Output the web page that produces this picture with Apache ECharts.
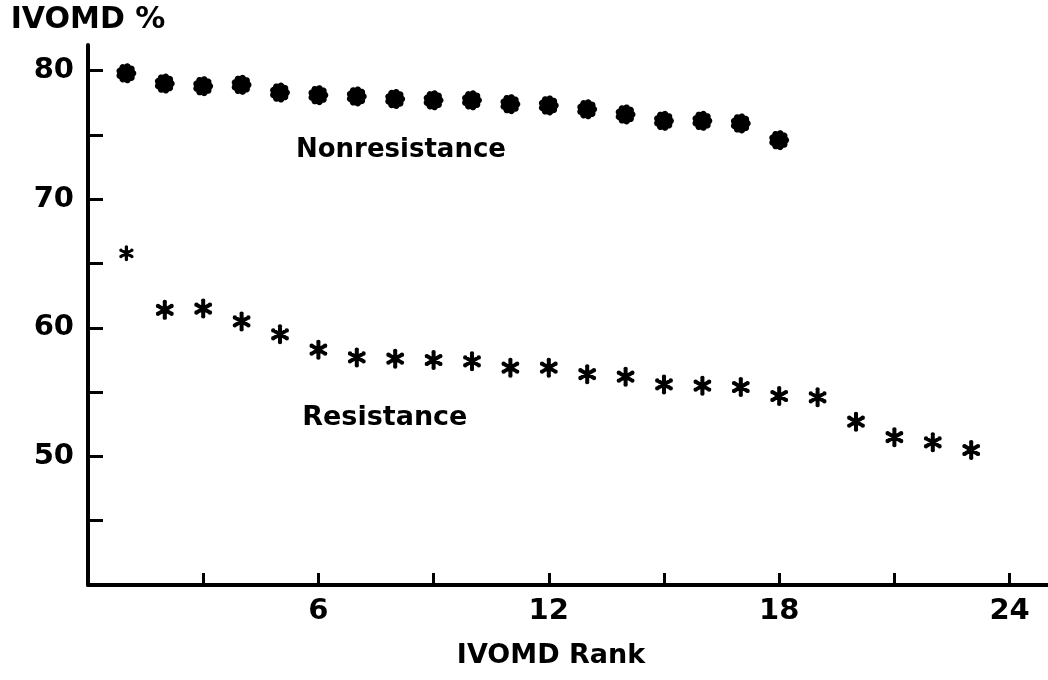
<!DOCTYPE html>
<html>
<head>
<meta charset="utf-8">
<title>IVOMD by rank</title>
<script src="https://cdn.jsdelivr.net/npm/echarts@6/dist/echarts.min.js"></script>
<style>
  html, body { margin: 0; padding: 0; background: #fff; }
  #chart { width: 1048px; height: 680px; }
</style>
</head>
<body>
<div id="chart"></div>
<script>
// IVOMD (%) of clones ordered by rank, for the two groups
const nonresistanceRanks = [1, 2, 3, 4, 5, 6, 7, 8, 9, 10, 11, 12, 13, 14, 15, 16, 17, 18];
const nonresistanceValues = [79.8, 79.0, 78.8, 78.9, 78.3, 78.1, 78.0, 77.8, 77.7, 77.7, 77.4, 77.3, 77.0, 76.6, 76.1, 76.1, 75.9, 74.6];

const resistanceRanks = [1, 2, 3, 4, 5, 6, 7, 8, 9, 10, 11, 12, 13, 14, 15, 16, 17, 18, 19, 20, 21, 22, 23];
const resistanceValues = [65.8, 61.4, 61.5, 60.5, 59.5, 58.3, 57.7, 57.6, 57.5, 57.4, 56.9, 56.9, 56.4, 56.2, 55.6, 55.5, 55.4, 54.7, 54.6, 52.7, 51.5, 51.1, 50.5];

const xTickValues = [3, 6, 9, 12, 15, 18, 21, 24];
const xLabelValues = [6, 12, 18, 24];
const yTickValues = [45, 50, 55, 60, 65, 70, 75, 80];
const yLabelValues = [50, 60, 70, 80];

const FONT = '"DejaVu Sans", "Liberation Sans", sans-serif';

// circle sub-path, drawn clockwise so overlapping pieces merge
function circlePath(cx, cy, r) {
  return 'M' + (cx - r) + ' ' + cy +
    'A' + r + ' ' + r + ' 0 1 1 ' + (cx + r) + ' ' + cy +
    'A' + r + ' ' + r + ' 0 1 1 ' + (cx - r) + ' ' + cy + 'Z';
}

// solid round marker with a shallow scalloped rim, as one closed outline
function flowerSymbol() {
  const n = 180, lobes = 9;
  const pts = [];
  for (let i = 0; i < n; i++) {
    const t = (i / n) * Math.PI * 2;
    const r = 44 + 6 * Math.abs(Math.cos(lobes * t / 2));
    pts.push((50 + r * Math.cos(t)).toFixed(2) + ' ' + (50 + r * Math.sin(t)).toFixed(2));
  }
  return 'path://M' + pts.join('L') + 'Z';
}

// six-armed asterisk marker with rounded arm tips
function asteriskSymbol() {
  const L = 39, h = 10, tip = 11;
  let d = '';
  [90, 30, 150].forEach(function (deg) {
    const t = deg * Math.PI / 180;
    const ux = Math.cos(t), uy = Math.sin(t);
    const nx = -uy, ny = ux;
    const pts = [
      [50 + L * ux - h * nx, 50 + L * uy - h * ny],
      [50 + L * ux + h * nx, 50 + L * uy + h * ny],
      [50 - L * ux + h * nx, 50 - L * uy + h * ny],
      [50 - L * ux - h * nx, 50 - L * uy - h * ny]
    ];
    d += 'M' + pts.map(function (p) { return p[0].toFixed(2) + ' ' + p[1].toFixed(2); }).join('L') + 'Z';
    d += circlePath(50 + L * ux, 50 + L * uy, tip);
    d += circlePath(50 - L * ux, 50 - L * uy, tip);
  });
  return 'path://' + d;
}

function pairs(xs, ys) {
  return xs.map(function (x, i) { return [x, ys[i]]; });
}

const chart = echarts.init(document.getElementById('chart'), null, { renderer: 'canvas' });

const textBase = { color: '#000', fontFamily: FONT, fontWeight: 'bold' };

chart.setOption({
  backgroundColor: '#fff',
  animation: false,
  grid: { left: 88, right: 0, top: 45, bottom: 95, containLabel: false, outerBoundsMode: 'none' },
  xAxis: {
    type: 'value',
    min: 0,
    max: 25,
    name: 'IVOMD Rank',
    nameLocation: 'middle',
    nameGap: 57,
    nameTextStyle: Object.assign({ fontSize: 27, padding: [0, 34, 0, 0] }, textBase),
    axisLine: { show: true, onZero: false, lineStyle: { color: '#000', width: 4, cap: 'round' } },
    axisTick: { show: true, inside: true, length: 12, customValues: xTickValues, lineStyle: { color: '#000', width: 3 } },
    axisLabel: Object.assign({ fontSize: 29, margin: 12, customValues: xLabelValues }, textBase),
    splitLine: { show: false }
  },
  yAxis: {
    type: 'value',
    min: 40,
    max: 82,
    name: 'IVOMD %',
    nameLocation: 'end',
    nameGap: 10,
    nameTextStyle: Object.assign({ fontSize: 30 }, textBase),
    axisLine: { show: true, onZero: false, lineStyle: { color: '#000', width: 4, cap: 'round' } },
    axisTick: { show: true, inside: true, length: 15, customValues: yTickValues, lineStyle: { color: '#000', width: 3 } },
    axisLabel: Object.assign({ fontSize: 29, margin: 14, customValues: yLabelValues }, textBase),
    splitLine: { show: false }
  },
  series: [
    {
      name: 'Nonresistance',
      type: 'scatter',
      data: pairs(nonresistanceRanks, nonresistanceValues),
      symbol: flowerSymbol(),
      symbolKeepAspect: true,
      symbolSize: 20,
      itemStyle: { color: '#000', opacity: 1 },
      markPoint: {
        symbol: 'circle',
        symbolSize: 0,
        data: [{ coord: [8.15, 73.85] }],
        label: Object.assign({ show: true, position: 'inside', fontSize: 26, formatter: 'Nonresistance' }, textBase)
      }
    },
    {
      name: 'Resistance',
      type: 'scatter',
      data: pairs(resistanceRanks, resistanceValues),
      symbol: asteriskSymbol(),
      symbolKeepAspect: true,
      symbolSize: function (val, params) { return params.dataIndex === 0 ? 16 : 20; },
      itemStyle: { color: '#000', opacity: 1 },
      markPoint: {
        symbol: 'circle',
        symbolSize: 0,
        data: [{ coord: [7.73, 53.0] }],
        label: Object.assign({ show: true, position: 'inside', fontSize: 27, formatter: 'Resistance' }, textBase)
      }
    }
  ]
});
</script>
</body>
</html>
